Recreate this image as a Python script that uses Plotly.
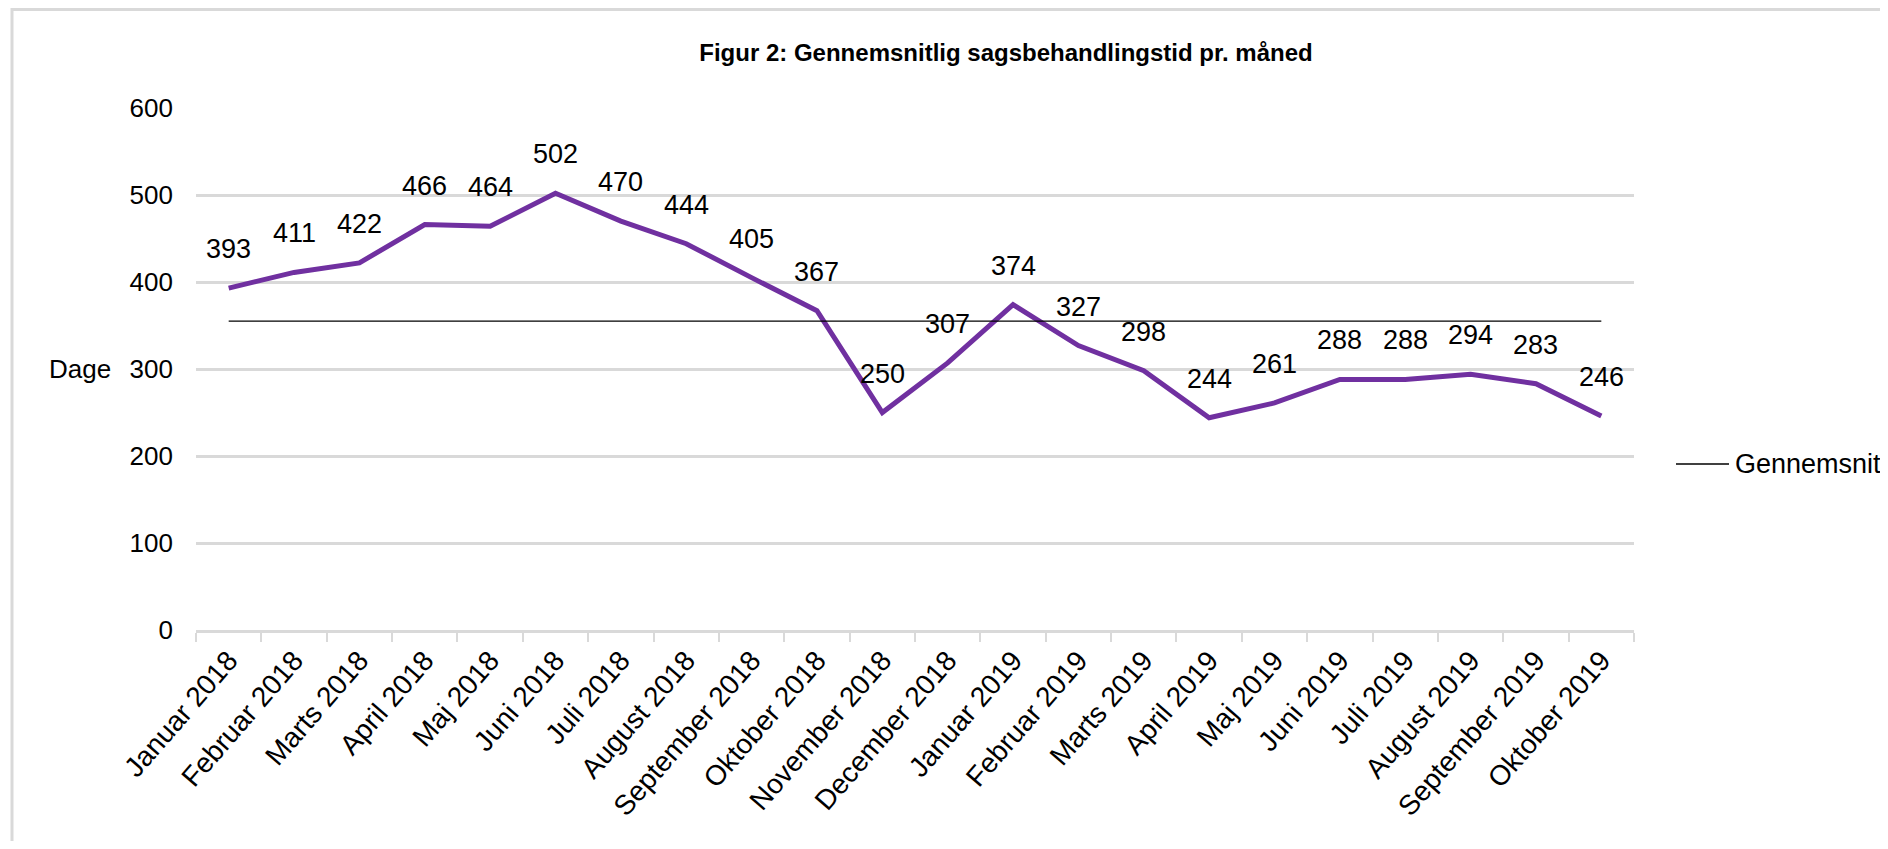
import plotly.graph_objects as go

months = ["Januar 2018", "Februar 2018", "Marts 2018", "April 2018", "Maj 2018", "Juni 2018",
          "Juli 2018", "August 2018", "September 2018", "Oktober 2018", "November 2018",
          "December 2018", "Januar 2019", "Februar 2019", "Marts 2019", "April 2019",
          "Maj 2019", "Juni 2019", "Juli 2019", "August 2019", "September 2019", "Oktober 2019"]
dage = [393, 411, 422, 466, 464, 502, 470, 444, 405, 367, 250, 307, 374, 327, 298, 244,
        261, 288, 288, 294, 283, 246]
gennemsnit_value = 355
gennemsnit = [gennemsnit_value] * len(months)
y_ticks = [0, 100, 200, 300, 400, 500, 600]

FONT = "Liberation Sans, Arial, sans-serif"
OFF = 8  # page body margin
W, H = 1888 - 2 * OFF, 849 - 2 * OFF
# plot area in page coordinates: x 196..1634, y 108..630
L = 196 - OFF
T = 108 - OFF
R = W - (1634 - OFF)
B = H - (630 - OFF)
PW = W - L - R
PH = H - T - B


def px_x(page_x):
    return (page_x - OFF - L) / PW


def px_y(page_y):
    return (H - B - (page_y - OFF)) / PH


fig = go.Figure()
fig.add_trace(go.Scatter(
    x=months, y=dage, mode="lines", name="Dage",
    line=dict(color="#7030A0", width=5), showlegend=False, hoverinfo="x+y"))
fig.add_trace(go.Scatter(
    x=months, y=gennemsnit, mode="lines", name="Gennemsnit",
    line=dict(color="#000000", width=1.3), showlegend=False))

for m, v in zip(months, dage):
    fig.add_annotation(x=m, y=v, text=str(v), showarrow=False, yshift=39,
                       font=dict(family=FONT, size=27, color="#000000"))

fig.add_annotation(xref="paper", yref="paper", x=0, y=0.5, xshift=-83, xanchor="right",
                   yanchor="middle", text="Dage", showarrow=False,
                   font=dict(family=FONT, size=26, color="#000000"))

# legend (Gennemsnit)
fig.add_shape(type="line", xref="paper", yref="paper",
              x0=px_x(1676), x1=px_x(1729), y0=px_y(464), y1=px_y(464),
              line=dict(color="#000000", width=1.3))
fig.add_annotation(xref="paper", yref="paper", x=px_x(1733), y=px_y(464),
                   xanchor="left", yanchor="middle", text="Gennemsnit", showarrow=False,
                   font=dict(family=FONT, size=27, color="#000000"))

# outer chart border
fig.add_shape(type="rect", xref="paper", yref="paper",
              x0=px_x(12), x1=px_x(1920),
              y0=px_y(880), y1=px_y(9.5),
              line=dict(color="#d9d9d9", width=3), fillcolor="rgba(0,0,0,0)", layer="below")

fig.update_layout(
    width=W, height=H,
    margin=dict(l=L, r=R, t=T, b=B, autoexpand=False),
    paper_bgcolor="white", plot_bgcolor="white",
    font=dict(family=FONT, size=26, color="#000000"),
    title=dict(text="<b>Figur 2: Gennemsnitlig sagsbehandlingstid pr. måned</b>",
               xref="container", yref="container", x=(1006 - OFF) / W, y=1 - (53 - OFF) / H,
               xanchor="center", yanchor="middle",
               font=dict(family=FONT, size=24, color="#000000")),
    showlegend=False,
    xaxis=dict(type="category", range=[-0.5, len(months) - 0.5],
               showgrid=False, showline=True, linecolor="#d9d9d9", linewidth=2.5,
               ticks="outside", tickson="boundaries", ticklen=9, tickcolor="#d9d9d9",
               tickwidth=2, tickangle=-49, tickfont=dict(family=FONT, size=28),
               zeroline=False, fixedrange=True, automargin=False),
    yaxis=dict(range=[0, 600], tickvals=y_ticks, showgrid=True, gridcolor="#d9d9d9",
               gridwidth=2.5, showline=False, zeroline=False, ticks="",
               tickfont=dict(family=FONT, size=26), ticklabelstandoff=22, fixedrange=True,
               automargin=False),
)

fig.write_html("out.html")
